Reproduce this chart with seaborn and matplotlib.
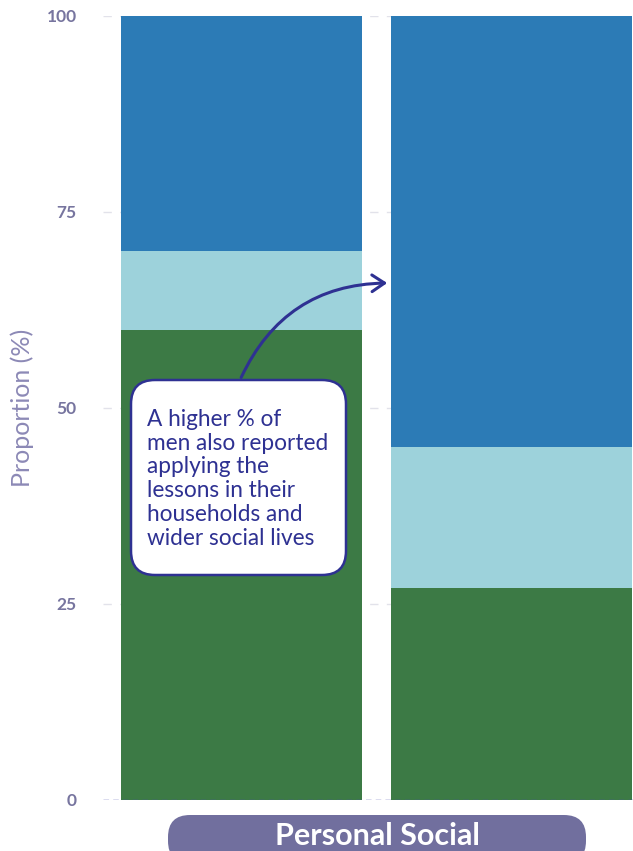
import pandas as pd
import matplotlib.pyplot as plt
import seaborn as sns
from matplotlib.patches import FancyBboxPatch, FancyArrowPatch
from matplotlib.transforms import IdentityTransform

# data
groups = ["Women", "Men"]
applied_fully = [60, 27]      # green, bottom
applied_some = [10, 18]       # light blue, middle
not_applied = [30, 55]        # blue, top
category = "Personal Social"
note = "A higher % of\nmen also reported\napplying the\nlessons in their\nhouseholds and\nwider social lives"

df = pd.DataFrame({"group": groups, "fully": applied_fully,
                   "some": applied_some, "none": not_applied})
df["top_green"] = df["fully"]
df["top_light"] = df["fully"] + df["some"]
df["top_blue"] = df["top_light"] + df["none"]

sns.set_style("white")
plt.rcParams["font.family"] = ["Lato", "DejaVu Sans"]

fig = plt.figure(figsize=(6.33, 8.51), dpi=100)
ax = fig.add_axes([103 / 633, 51 / 851, 547 / 633, 784 / 851])

# stacked bars: draw cumulative tops, tallest first
for col, c in [("top_blue", "#2c7bb6"), ("top_light", "#9dd2db"), ("top_green", "#3c7a45")]:
    sns.barplot(data=df, x="group", y=col, order=groups, color=c,
                width=0.893, saturation=1, linewidth=0, ax=ax, zorder=3)

ax.set_xlim(-0.513, 1.513)
ax.set_ylim(0, 100)
ax.set_yticks([0, 25, 50, 75, 100])
ax.set_xticks([])
ax.set_xlabel("")
ax.set_ylabel("Proportion (%)", color="#8c89b6", fontsize=18, va="center")
ax.yaxis.set_label_coords(-81 / 547, 0.5)
ax.tick_params(axis="y", length=0, pad=19, labelsize=12.5, labelcolor="#77759f")
for lab in ax.get_yticklabels():
    lab.set_fontweight("bold")
for s in ax.spines.values():
    s.set_visible(False)
for yv in [25, 50, 75, 100]:
    ax.axhline(yv, color="#e2e2ea", lw=1, ls=(0, (6, 6)), zorder=1)
ax.axhline(0, color="#4b4fb0", lw=1, ls=(0, (4, 3)), zorder=4)

# annotation box + curved arrow (pixel coordinates)
box = FancyBboxPatch((131, 276), 215, 195, boxstyle="round,pad=0,rounding_size=24",
                     transform=IdentityTransform(), facecolor="white",
                     edgecolor="#2e3192", lw=1.8, zorder=6)
fig.patches.append(box)
fig.text(147 / 633, 1 - 409 / 851, note, color="#2e3192", fontsize=16.3,
         va="top", ha="left", linespacing=1.16, zorder=7)
arrow = FancyArrowPatch((240, 471), (390, 568), transform=IdentityTransform(),
                        connectionstyle="arc3,rad=-0.32",
                        arrowstyle="->,head_length=9,head_width=6",
                        color="#2e3192", lw=2.2, zorder=6)
fig.patches.append(arrow)

# category label pill at the bottom
pill = FancyBboxPatch((168, -12), 418, 48, boxstyle="round,pad=0,rounding_size=22",
                      transform=IdentityTransform(), facecolor="#716f9e",
                      edgecolor="none", zorder=5)
fig.patches.append(pill)
fig.text(377 / 633, 1 - 836 / 851, category, color="white", fontsize=22,
         fontweight="bold", ha="center", va="center", zorder=6)

fig.savefig("out.png", dpi=100)
